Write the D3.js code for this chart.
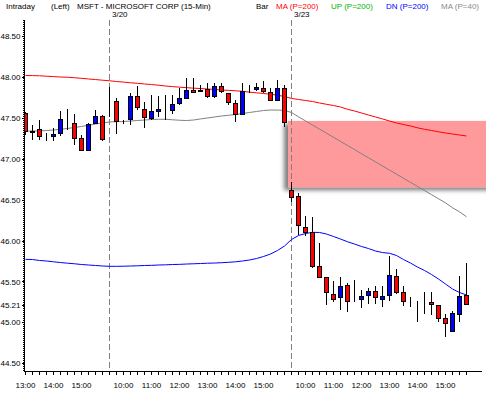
<!DOCTYPE html>
<html>
<head>
<meta charset="utf-8">
<script src="https://cdn.jsdelivr.net/npm/d3@7/dist/d3.min.js"></script>
<style>
  html, body { margin: 0; padding: 0; background: #fff; }
  svg { display: block; }
  text { font-family: "Liberation Sans", Arial, sans-serif; }
</style>
</head>
<body>
<div id="chart"></div>
<script>
const WIDTH = 486
const HEIGHT = 393

// sessions shown: first one is the tail of 3/19
const dayLabels = ["3/19", "3/20", "3/23"]
const dayBars = [12, 26, 26]
const dayStartMin = [13 * 60, 9 * 60 + 30, 9 * 60 + 30]

// 15-min bars
const open = [47.56, 47.34, 47.36, 47.25, 47.27, 47.31, 47.49, 47.44, 47.25, 47.11, 47.44, 47.52,
  47.70, 47.70, 47.44, 47.48, 47.76, 47.60, 47.50, 47.58, 47.61, 47.59, 47.68, 47.74, 47.84, 47.82,
  47.85, 47.76, 47.89, 47.80, 47.68, 47.54, 47.84, 47.85, 47.86, 47.81, 47.72, 47.86,
  46.62, 46.54, 46.17, 46.10, 45.69, 45.55, 45.35, 45.31, 45.46, 45.26, 45.28, 45.34, 45.38, 45.29,
  45.33, 45.57, 45.37, 45.25, 45.25, 45.24, 45.25, 45.21, 45.05, 44.90, 45.10, 45.33]
const high = [47.57, 47.41, 47.47, 47.31, 47.37, 47.58, 47.60, 47.55, 47.29, 47.43, 47.59, 47.53,
  47.87, 47.74, 47.47, 47.80, 47.89, 47.69, 47.78, 47.76, 47.78, 47.78, 47.86, 47.98, 47.98, 47.90,
  47.92, 47.92, 47.92, 47.80, 47.72, 47.92, 47.90, 47.92, 47.95, 47.86, 47.96, 47.90,
  46.72, 46.58, 46.30, 46.29, 45.97, 45.55, 45.50, 45.55, 45.48, 45.52, 45.40, 45.42, 45.44, 45.44,
  45.81, 45.65, 45.44, 45.31, 45.26, 45.37, 45.37, 45.21, 45.10, 45.14, 45.57, 45.73]
const low = [47.29, 47.23, 47.23, 47.21, 47.21, 47.27, 47.35, 47.17, 47.10, 47.09, 47.43, 47.21,
  47.51, 47.30, 47.42, 47.41, 47.59, 47.37, 47.47, 47.51, 47.47, 47.55, 47.65, 47.74, 47.80, 47.82,
  47.74, 47.74, 47.80, 47.65, 47.45, 47.53, 47.80, 47.83, 47.80, 47.72, 47.72, 47.39,
  46.47, 46.07, 46.05, 45.67, 45.55, 45.21, 45.25, 45.15, 45.13, 45.25, 45.17, 45.23, 45.22, 45.19,
  45.26, 45.35, 45.20, 45.19, 45.01, 45.10, 45.09, 45.01, 44.82, 44.89, 45.01, 45.21]
const close = [47.34, 47.33, 47.28, 47.25, 47.30, 47.48, 47.49, 47.25, 47.11, 47.42, 47.52, 47.24,
  47.70, 47.46, 47.44, 47.76, 47.63, 47.51, 47.58, 47.61, 47.61, 47.67, 47.74, 47.84, 47.81, 47.84,
  47.76, 47.89, 47.82, 47.69, 47.54, 47.82, 47.84, 47.87, 47.82, 47.72, 47.86, 47.45,
  46.53, 46.19, 46.10, 45.69, 45.56, 45.37, 45.29, 45.44, 45.26, 45.26, 45.32, 45.38, 45.31, 45.32,
  45.58, 45.37, 45.26, 45.25, 45.25, 45.24, 45.22, 45.06, 44.99, 45.12, 45.32, 45.23]

// MA (P=200), red
const ma200 = [48.015, 48.013, 48.011, 48.006, 48.001, 47.996, 47.993, 47.987, 47.980, 47.972, 47.965, 47.957,
  47.950, 47.941, 47.934, 47.926, 47.919, 47.911, 47.904, 47.896, 47.886, 47.879, 47.872, 47.866, 47.860, 47.855,
  47.850, 47.844, 47.838, 47.833, 47.828, 47.822, 47.811, 47.803, 47.795, 47.785, 47.774, 47.758,
  47.734, 47.722, 47.709, 47.697, 47.679, 47.663, 47.648, 47.630, 47.602, 47.581, 47.557, 47.532, 47.508, 47.484,
  47.459, 47.435, 47.416, 47.398, 47.376, 47.358, 47.343, 47.327, 47.313, 47.300, 47.288, 47.276]
// MA (P=40), gray
const ma40 = [47.337, 47.337, 47.337, 47.343, 47.349, 47.358, 47.368, 47.380, 47.392, 47.407, 47.422, 47.435,
  47.447, 47.451, 47.453, 47.459, 47.465, 47.471, 47.477, 47.480, 47.480, 47.474, 47.468, 47.465, 47.471, 47.484,
  47.496, 47.508, 47.520, 47.529, 47.538, 47.551, 47.563, 47.575, 47.587, 47.593, 47.593, 47.587,
  47.563, 47.510, 47.460, 47.410, 47.360, 47.310, 47.260, 47.210, 47.160, 47.110, 47.060, 47.010, 46.960, 46.910,
  46.860, 46.810, 46.760, 46.710, 46.660, 46.610, 46.560, 46.510, 46.460, 46.400, 46.350, 46.290]
// DN (P=200), blue
const dnBand = [45.770, 45.768, 45.756, 45.750, 45.740, 45.731, 45.723, 45.716, 45.707, 45.701, 45.695, 45.689,
  45.685, 45.685, 45.686, 45.689, 45.691, 45.695, 45.697, 45.701, 45.703, 45.707, 45.709, 45.713, 45.716, 45.719,
  45.723, 45.725, 45.729, 45.734, 45.740, 45.750, 45.762, 45.780, 45.805, 45.835, 45.878, 45.933,
  46.012, 46.061, 46.085, 46.100, 46.098, 46.079, 46.049, 46.018, 45.985, 45.957, 45.927, 45.902, 45.872, 45.853,
  45.844, 45.817, 45.768, 45.725, 45.676, 45.634, 45.585, 45.530, 45.469, 45.408, 45.365, 45.335]

// opening gap on 3/23
const gapTop = 47.46
const gapBottom = 46.65

const yTicks = [48.5, 48, 47.5, 47, 46.5, 46, 45.5, 45.21, 45, 44.5]

const legend = [
  { text: "Bar", color: "#000", x: 256 },
  { text: "MA (P=200)", color: "#ff0000", x: 276 },
  { text: "UP (P=200)", color: "#00b400", x: 331 },
  { text: "DN (P=200)", color: "#0000ff", x: 386 },
  { text: "MA (P=40)", color: "#8c8c8c", x: 441 }
]

// bar time labels
const barTimes = []
dayBars.forEach((n, d) => {
  for (let k = 0; k < n; k++) barTimes.push(dayStartMin[d] + 15 * k)
})
const dayFirstBar = dayBars.map((_, d) => d3.sum(dayBars.slice(0, d)))

const plotL = 25, plotR = 482, plotT = 20, plotB = 371

const x = d3.scaleLinear().domain([0, barTimes.length - 1]).range([25.3, 466.3])
const y = d3.scaleLinear().domain([44.407, 48.692]).range([plotB, plotT])
const px = i => Math.round(x(i)) + 0.5

const svg = d3.select("#chart").append("svg")
  .attr("width", WIDTH)
  .attr("height", HEIGHT)
  .style("background", "#fff")

const defs = svg.append("defs")
defs.append("filter")
  .attr("id", "gap-shadow")
  .attr("x", "-20%").attr("y", "-20%").attr("width", "140%").attr("height", "140%")
  .append("feDropShadow")
  .attr("dx", -4).attr("dy", 3)
  .attr("stdDeviation", 2.2)
  .attr("flood-color", "#000")
  .attr("flood-opacity", 0.5)

defs.append("clipPath").attr("id", "plot-clip")
  .append("rect")
  .attr("x", plotL).attr("y", plotT)
  .attr("width", plotR - plotL).attr("height", plotB - plotT)

// header
const header = svg.append("g").attr("font-size", "8px").style("white-space", "pre")
header.append("text").attr("x", 6).attr("y", 8.5).text("Intraday")
header.append("text").attr("x", 51).attr("y", 8.5).text("(Left)")
header.append("text").attr("x", 77).attr("y", 8.5).text("MSFT - MICROSOFT CORP  (15-Min)")
legend.forEach(l => {
  header.append("text").attr("x", l.x).attr("y", 8.5).attr("fill", l.color).text(l.text)
})

// gap zone
svg.append("rect")
  .attr("x", Math.round(x(37.5)))
  .attr("y", y(gapTop))
  .attr("width", WIDTH + 10 - x(37.5))
  .attr("height", y(gapBottom) - y(gapTop))
  .attr("fill", "#ff9a9c")
  .attr("filter", "url(#gap-shadow)")

// day dividers + date labels
dayFirstBar.slice(1).forEach((b, k) => {
  svg.append("line")
    .attr("x1", px(b)).attr("x2", px(b))
    .attr("y1", plotT).attr("y2", plotB)
    .attr("stroke", "#808080")
    .attr("stroke-dasharray", "6,3")
    .attr("shape-rendering", "crispEdges")
  svg.append("text")
    .attr("x", px(b) + 2.5).attr("y", 17)
    .attr("font-size", "8px")
    .text(dayLabels[k + 1])
})

// y axis
const yAxis = svg.append("g")
  .attr("transform", `translate(${plotL - 0.5},0)`)
  .call(d3.axisLeft(y).tickValues(yTicks).tickSize(3).tickPadding(1).tickFormat(d3.format(".2f")))
yAxis.select(".domain").remove()
yAxis.selectAll("line").attr("stroke", "#000").attr("shape-rendering", "crispEdges")
yAxis.selectAll("text").attr("font-size", "8px").attr("font-family", "Liberation Sans, Arial, sans-serif").attr("fill", "#000")
svg.append("line")
  .attr("x1", plotL - 0.5).attr("x2", plotL - 0.5)
  .attr("y1", plotT).attr("y2", plotB + 0.5)
  .attr("stroke", "#000").attr("shape-rendering", "crispEdges")
svg.append("line")
  .attr("x1", plotL - 1.5).attr("x2", plotL - 1.5)
  .attr("y1", plotT).attr("y2", plotB)
  .attr("stroke", "#000").attr("stroke-dasharray", "1,1")
  .attr("shape-rendering", "crispEdges")

// x axis
const xAxis = svg.append("g")
  .attr("transform", `translate(0,${plotB + 0.5})`)
  .call(d3.axisBottom(x)
    .tickValues(d3.range(barTimes.length))
    .tickSize(3)
    .tickPadding(8)
    .tickFormat(i => barTimes[i] % 60 === 0 ? `${barTimes[i] / 60}:00` : ""))
xAxis.select(".domain").remove()
xAxis.selectAll(".tick").attr("transform", d => `translate(${px(d)},0)`)
xAxis.selectAll("line").attr("stroke", "#000").attr("shape-rendering", "crispEdges")
xAxis.selectAll("text").attr("font-size", "8px").attr("font-family", "Liberation Sans, Arial, sans-serif").attr("fill", "#000")
svg.append("line")
  .attr("x1", plotL - 1).attr("x2", plotR)
  .attr("y1", plotB + 0.5).attr("y2", plotB + 0.5)
  .attr("stroke", "#000").attr("shape-rendering", "crispEdges")

// indicator lines
const plot = svg.append("g").attr("clip-path", "url(#plot-clip)")
const lineGen = vals => d3.line().x((_, i) => px(i)).y(d => y(d))(vals)
plot.append("path").attr("d", lineGen(ma40)).attr("fill", "none").attr("stroke", "#808080").attr("stroke-width", 1)
plot.append("path").attr("d", lineGen(dnBand)).attr("fill", "none").attr("stroke", "#0000ff").attr("stroke-width", 1)
plot.append("path").attr("d", lineGen(ma200)).attr("fill", "none").attr("stroke", "#ff0000").attr("stroke-width", 1)

// candles
const candles = plot.append("g").attr("shape-rendering", "crispEdges")
open.forEach((o, i) => {
  const c = close[i]
  const cx = px(i)
  candles.append("line")
    .attr("x1", cx).attr("x2", cx)
    .attr("y1", Math.round(y(high[i]))).attr("y2", Math.round(y(low[i])))
    .attr("stroke", "#000")
  const yTop = Math.round(y(Math.max(o, c))) + 0.5
  const yBot = Math.round(y(Math.min(o, c))) + 0.5
  candles.append("rect")
    .attr("x", cx - 2).attr("y", yTop)
    .attr("width", 4).attr("height", yBot - yTop)
    .attr("fill", c > o ? "#0000ff" : c < o ? "#ff0000" : "#000")
    .attr("stroke", "#000")
})
</script>
</body>
</html>
